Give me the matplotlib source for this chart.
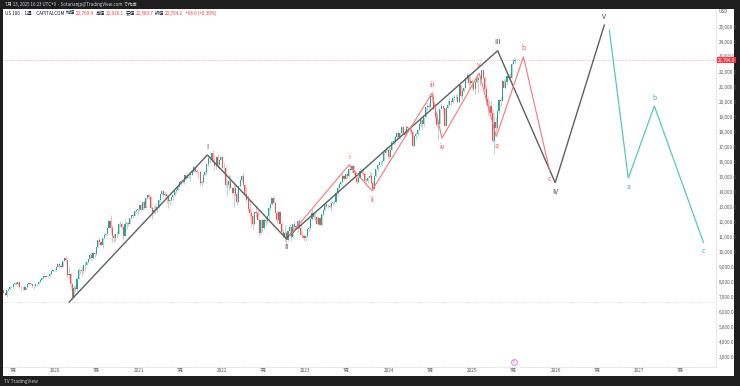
import numpy as np
import pandas as pd
import matplotlib
matplotlib.use("Agg")
import matplotlib.pyplot as plt
from matplotlib.patches import Rectangle

plt.rcParams['font.family'] = ['Noto Sans CJK JP', 'DejaVu Sans']

W, H = 740, 386

# weekly US 100 candles (open = previous close)
first_week = "2019-05-20"
first_open = 7447
closes = [
    7290, 7127, 7446, 7507, 7686, 7671, 7860, 7943, 7843, 7997, 7662, 7644, 7655, 7466, 7663, 7852,
    7905, 7852, 7705, 7725, 7851, 7871, 8014, 8161, 8250, 8385, 8350, 8403, 8399, 8535, 8733, 8771,
    # 2020
    8793, 8972, 9174, 9090, 8992, 9401, 9623, 9446, 8462, 8530, 7875, 6994, 7591, 7528, 8231, 8833,
    8782, 8718, 9121, 9152, 9325, 9555, 9824, 9589, 9946, 9849, 10341, 10768, 10654, 10461, 10906,
    11139, 11178, 11612, 12067, 11622, 11088, 10937, 11168, 11230, 11852, 11864, 11666, 11052, 11895,
    11937, 11855, 12258, 12465, 12377, 12756, 12805,
    # 2021
    12888, 13105, 12804, 13366, 12925, 13613, 13808, 13652, 12909, 12668, 12819, 12793, 12969, 13481,
    13845, 14041, 13816, 13861, 13720, 13428, 13471, 13687, 13774, 14069, 14141, 14361, 14656, 14710,
    14643, 15111, 14959, 15127, 15148, 15149, 15320, 15652, 15374, 15333, 15303, 14567, 14651, 15147,
    15340, 15850, 16283, 16281, 16573, 16026, 15712, 16336, 15800, 16156, 16320,
    # 2022
    15594, 15612, 14438, 14441, 14759, 14253, 13949, 14253, 13837, 13301, 14420, 14811, 15039, 14467,
    13896, 13459, 12855, 12573, 12387, 11835, 12681, 12620, 12139, 11265, 12133, 11586, 12126, 12042,
    12396, 12947, 13207, 13587, 13289, 12605, 12116, 12635, 11861, 11311, 10971, 11255, 10821, 11431,
    11666, 10970, 11871, 11691, 11711, 12063, 11569, 11165, 11092, 10940,
    # 2023
    11040, 11541, 11620, 12167, 12574, 12305, 12358, 11863, 12242, 11830, 12520, 12768, 13181, 13063,
    13080, 13031, 13246, 13339, 13340, 13946, 14298, 14546, 14644, 15084, 14892, 15180, 15036, 15565,
    15452, 15758, 15274, 14956, 14695, 14942, 15432, 15290, 15203, 14701, 14715, 14945, 15074, 14582,
    14181, 15099, 15529, 15808, 15983, 15998, 16084, 16623, 16777, 16826,
    # 2024
    16307, 16833, 17314, 17421, 17643, 17963, 17686, 17937, 18303, 17958, 17808, 18339, 18254, 18108,
    18003, 17037, 17718, 17891, 18161, 18546, 18809, 18537, 19000, 19660, 19701, 19683, 20392, 20332,
    19523, 19023, 18440, 18513, 19509, 19720, 19575, 18421, 19576, 19791, 20063, 20015, 20272, 20324,
    20352, 20033, 21118, 20394, 20742, 20931, 21622, 21781, 21289, 21394,
    # 2025
    21262, 20847, 21353, 21585, 21478, 21491, 22115, 21614, 20885, 20202, 19704, 19754, 19282, 17398,
    18690, 18258, 19432, 20102, 20062, 21427, 20915, 21340, 21761, 21631, 21626, 22534, 22726, 22794,
]
highs = [
    7460, 7330, 7460, 7560, 7740, 7720, 7870, 7990, 8000, 8030, 8040, 7730, 7700, 7770, 7680, 7870,
    7960, 7950, 7880, 7780, 7900, 7960, 8050, 8180, 8270, 8400, 8400, 8420, 8420, 8570, 8750, 8800,
    8870, 8990, 9180, 9260, 9240, 9420, 9630, 9720, 9460, 9070, 8570, 7880, 7780, 7780, 8300, 8900,
    8840, 9090, 9180, 9300, 9390, 9560, 9900, 10000, 10030, 10020, 10370, 10800, 10950, 10730, 10930,
    11250, 11250, 11620, 12150, 12440, 11770, 11270, 11200, 11390, 11900, 12080, 11930, 11760, 12120,
    11990, 12030, 12280, 12490, 12600, 12790, 12830,
    12950, 13150, 13200, 13410, 13480, 13630, 13830, 13880, 13700, 13050, 13050, 13180, 13050, 13500,
    13850, 14060, 14100, 14060, 13880, 13700, 13560, 13750, 13800, 14090, 14180, 14400, 14680, 14800,
    14890, 15120, 15150, 15200, 15210, 15230, 15340, 15700, 15700, 15520, 15420, 15400, 14820, 15190,
    15450, 15850, 16350, 16370, 16610, 16770, 16450, 16370, 16500, 16200, 16400,
    16400, 15900, 15700, 14800, 15100, 15100, 14300, 14600, 14500, 14000, 14450, 14850, 15100, 15260,
    14500, 14300, 13780, 13470, 12800, 12470, 12690, 13000, 12800, 12230, 12200, 12180, 12260, 12300,
    12450, 13020, 13230, 13620, 13720, 13300, 12700, 12700, 12710, 12000, 11500, 11780, 11380, 11480,
    11840, 11720, 11890, 12040, 11770, 12150, 12180, 11950, 11300, 11180,
    11150, 11580, 11720, 12250, 12880, 12590, 12650, 12380, 12300, 12330, 12550, 12850, 13210, 13200,
    13210, 13150, 13280, 13400, 13490, 13960, 14380, 14580, 14700, 15280, 15100, 15240, 15250, 15620,
    15930, 15800, 15800, 15330, 15050, 15170, 15580, 15550, 15620, 15280, 14900, 15000, 15300, 15360,
    14700, 15110, 15560, 15880, 16020, 16070, 16120, 16750, 16970, 16970,
    16970, 16970, 17380, 17670, 17800, 18000, 18040, 18000, 18330, 18420, 18040, 18470, 18420, 18450,
    18460, 18070, 17800, 17970, 18200, 18620, 18910, 18850, 19000, 19690, 19980, 19930, 20400, 20700,
    20500, 19900, 19250, 18700, 19540, 19900, 19750, 19600, 19650, 20130, 20300, 20100, 20300, 20450,
    20500, 20550, 21140, 21130, 20930, 20990, 21640, 21950, 21900, 21700,
    21500, 21400, 21430, 21830, 21700, 21800, 22150, 22230, 21700, 21100, 20300, 20150, 20150, 19450,
    19150, 19000, 19500, 20180, 20320, 21470, 21510, 21530, 21800, 21870, 21900, 22600, 22880, 22920,
]
lows = [
    7250, 7100, 6980, 7420, 7490, 7600, 7620, 7820, 7830, 7830, 7600, 7400, 7460, 7440, 7440, 7620,
    7820, 7800, 7640, 7550, 7650, 7760, 7840, 7980, 8130, 8200, 8270, 8330, 8250, 8350, 8510, 8700,
    8700, 8700, 8970, 8960, 8900, 8970, 9390, 9430, 8280, 8200, 7520, 6770, 6960, 7330, 7410, 8200,
    8540, 8380, 8590, 8830, 9100, 9290, 9550, 9490, 9530, 9690, 9820, 10240, 10540, 10400, 10250,
    10880, 11050, 11180, 11570, 11240, 10690, 10680, 10700, 10950, 11210, 11670, 11500, 10820, 11110,
    11540, 11730, 11860, 12200, 12240, 12370, 12600,
    12500, 12750, 12750, 12800, 12850, 12950, 13550, 13500, 12850, 12200, 12600, 12500, 12600, 12950,
    13400, 13800, 13700, 13650, 13250, 12900, 13100, 13400, 13450, 13750, 13900, 14100, 14370, 14450,
    14600, 14500, 14800, 14900, 14900, 14750, 15100, 15300, 15300, 15220, 14900, 14450, 14400, 14620,
    15100, 15200, 15750, 15950, 16100, 15950, 15450, 15500, 15600, 15500, 16100,
    15500, 15250, 14350, 13700, 14100, 14200, 13800, 13000, 13700, 13150, 13250, 14300, 14650, 14420,
    13850, 13300, 12700, 12200, 11650, 11450, 11800, 12300, 12100, 11040, 11200, 11300, 11500, 11760,
    11950, 12150, 12700, 13150, 13250, 12580, 11950, 12050, 11840, 11220, 10900, 10760, 10450, 10700,
    11150, 10700, 10900, 11500, 11500, 11350, 11500, 11100, 10900, 10700,
    10700, 11000, 11420, 11550, 12100, 12200, 12150, 11840, 11800, 11820, 11750, 12400, 12700, 12960,
    12900, 12900, 12730, 13100, 13200, 13300, 13700, 14300, 14450, 14650, 14820, 14770, 14950, 15000,
    15380, 15300, 15150, 14900, 14560, 14620, 14930, 15180, 15150, 14680, 14520, 14580, 14900, 14560,
    14060, 14170, 15000, 15400, 15780, 15800, 15750, 16050, 16580, 16700,
    16170, 16280, 16790, 17150, 17200, 17600, 17540, 17500, 17870, 17900, 17700, 17850, 18100, 17900,
    17850, 17000, 17040, 17520, 17750, 18120, 18300, 18220, 18400, 18950, 19440, 19500, 19580, 19900,
    19450, 18900, 18350, 17450, 18500, 19500, 19200, 18400, 18450, 19600, 19800, 19700, 19900, 20150,
    20200, 19950, 20050, 20350, 20200, 20650, 20900, 21450, 20900, 21100,
    20900, 20700, 20550, 21250, 20600, 21050, 21250, 21500, 20650, 19800, 19150, 19400, 19150, 17350,
    16540, 18000, 18200, 19200, 19700, 20600, 20900, 20900, 21100, 21460, 21400, 21600, 22500, 22580,
]

# Elliott wave drawings
gray_dates = ["2020-03-03", "2021-10-29", "2022-10-08", "2025-04-22", "2025-12-30", "2026-08-02"]
gray_prices = [6667, 16470, 10910, 23420, 14620, 25130]
gray_labels = ["", "I", "II", "III", "IV", "V"]

red_dates = ["2022-10-22", "2023-07-11", "2023-10-19", "2024-07-08", "2024-08-21",
             "2025-01-31", "2025-04-16", "2025-08-13", "2025-12-05"]
red_prices = [11067, 15800, 14087, 20580, 17580, 21930, 17687, 23020, 15467]
red_labels = ["", "i", "ii", "iii", "iv", "v", "a", "b", "c"]

teal_dates = ["2026-08-24", "2026-11-15", "2027-03-09", "2027-10-10"]
teal_prices = [24800, 14913, 19733, 10647]
teal_labels = ["", "a", "b", "c"]

last_price = 22794.0
support_price = 6670
price_ticks = list(range(3000, 26000, 1000))
header_parts = [("US 100 · 1週 · CAPITALCOM", "#131722"), ("始値", "#131722"), ("22,769.4", "#f23645"),
                ("高値", "#131722"), ("22,916.1", "#f23645"), ("安値", "#131722"), ("22,583.7", "#f23645"),
                ("終値", "#131722"), ("22,794.2", "#f23645"), ("+68.0 (+0.30%)", "#f23645")]

fig = plt.figure(figsize=(W / 100, H / 100), dpi=100, facecolor="#1e1e1e")
fig.add_artist(Rectangle((3 / W, 1 - 376 / H), 731 / W, 367 / H, transform=fig.transFigure,
                         facecolor="white", edgecolor="none", zorder=-5))
ax = fig.add_axes([3 / W, 1 - 366.7 / H, 713 / W, 357.7 / H])
ax.set_facecolor("none")

dates = pd.date_range(first_week, periods=len(closes), freq="7D")
c = np.array(closes, float)
o = np.concatenate([[first_open], c[:-1]])
hi = np.maximum(np.array(highs, float), np.maximum(o, c))
lo = np.minimum(np.array(lows, float), np.minimum(o, c))
up = c >= o
cols = np.where(up, "#26a69a", "#ef5350")
ax.vlines(dates, lo, hi, colors=cols, lw=0.5, alpha=0.55, zorder=2)
ax.bar(dates, np.maximum(np.abs(c - o), 20), bottom=np.minimum(o, c), width=4.8,
       color=cols, edgecolor="none", zorder=3)

ax.axhline(last_price, color="#f23645", lw=0.5, ls=(0, (1, 1.5)), alpha=0.6, zorder=1)
ax.axhline(support_price, color="#b8b8b8", lw=0.5, ls=(0, (1, 2)), zorder=1)


def wave(dts, prices, labels, color, lw, tcolor):
    x = pd.to_datetime(dts)
    ax.plot(x, prices, color=color, lw=lw, zorder=5, solid_joinstyle="miter")
    n = len(prices)
    for i, lab in enumerate(labels):
        if not lab:
            continue
        nb = [prices[j] for j in (i - 1, i + 1) if 0 <= j < n]
        peak = prices[i] >= max(nb)
        ax.annotate(lab, (x[i], prices[i]), xytext=(0, 6 if peak else -6.5), textcoords="offset points",
                    ha="center", va="center", fontsize=5, color=tcolor, zorder=6)


wave(gray_dates, gray_prices, gray_labels, "#58625f", 1.0, "#3c4543")
wave(red_dates, red_prices, red_labels, "#f7767b", 0.8, "#f25c62")
wave(teal_dates, teal_prices, teal_labels, "#5cc6b8", 0.9, "#3fb5a6")

ax.set_xlim(pd.Timestamp("2019-05-18"), pd.Timestamp("2027-12-04"))
ax.set_ylim(2353, 26200)

xt, xl = [], []
for yr in range(2019, 2028):
    if yr > 2019:
        xt.append(pd.Timestamp(f"{yr}-01-01"))
        xl.append(str(yr))
    xt.append(pd.Timestamp(f"{yr}-07-01"))
    xl.append("7月")
ax.set_xticks(xt)
ax.set_xticklabels(xl)
ax.yaxis.tick_right()
ax.set_yticks(price_ticks)
ax.set_yticklabels([f"{p:,.1f}" for p in price_ticks])
ax.tick_params(axis="both", length=0, labelsize=3.3, labelcolor="#555555")
ax.tick_params(axis="x", pad=1.2)
ax.tick_params(axis="y", pad=2.2)
for lab in ax.get_yticklabels():
    lab.set_ha("left")
    if lab.get_text() == "23,000.0":
        # partly tucked above the last-price tag, as in the reference
        lab.set_va("bottom")
        lab.set_fontsize(3.0)

for s in ("top", "left"):
    ax.spines[s].set_visible(False)
for s in ("right", "bottom"):
    ax.spines[s].set_color("#cfcfcf")
    ax.spines[s].set_linewidth(0.5)
    ax.spines[s].set_linestyle((0, (1, 2)))

yt = ax.get_yaxis_transform()
ax.text(1.004, 26000, "USD", transform=yt, fontsize=3.3, color="#555555", va="center", ha="left")
ax.text(1.0025, last_price, f"{last_price:,.1f}", transform=yt, fontsize=3.2, color="white",
        va="center", ha="left", clip_on=False, zorder=10,
        bbox=dict(boxstyle="square,pad=0.2", fc="#f23645", ec="none"))

# earnings marker
ax.plot(pd.Timestamp("2025-07-03"), 2680, marker="o", ms=4.2, mfc="#fbeefb", mec="#c86bc9", mew=0.5,
        clip_on=False, zorder=8)
ax.text(pd.Timestamp("2025-07-03"), 2680, "E", fontsize=2.6, color="#c86bc9", ha="center", va="center",
        zorder=9, clip_on=False)

fig.text(5 / W, 1 - 4.5 / H, "7月 13, 2025 16:23 UTC+9 · Sotarianjp@TradingView.com で作成",
         fontsize=3.2, color="#d1d4dc", va="center")
fig.text(4 / W, 1 - 381 / H, "TV TradingView", fontsize=3.4, color="#c8c8c8", va="center")

r = fig.canvas.get_renderer()
xp = 5.0
for s, col in header_parts:
    t = fig.text(xp / W, 1 - 13 / H, s, fontsize=3.3, color=col, va="center")
    bb = t.get_window_extent(r)
    xp = bb.x1 + (2.0 if col != "#131722" or s.startswith("US") else 0.5)

fig.savefig("out.png", dpi=100, facecolor=fig.get_facecolor())
